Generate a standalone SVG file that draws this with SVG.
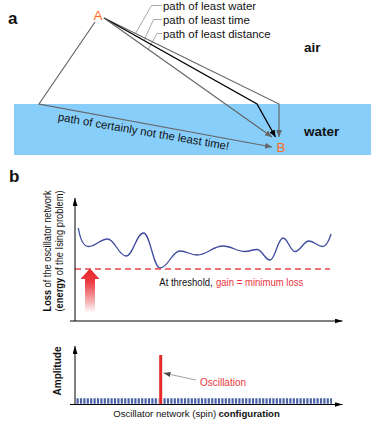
<svg xmlns="http://www.w3.org/2000/svg" width="374" height="431" viewBox="0 0 374 431">
<style>
text{font-family:"Liberation Sans",Arial,Helvetica,sans-serif;fill:#111}
.lbl{font-size:11.4px}
.pl{font-weight:bold;font-size:17px}
.med{font-weight:bold;font-size:13.5px}
.ab{fill:#FF6A1A;font-size:13.5px}
.g{fill:none;stroke:#666;stroke-width:1.2}
.k{fill:none;stroke:#000;stroke-width:1.3}
.lead{fill:none;stroke:#aaa;stroke-width:1}
.ax{fill:none;stroke:#000;stroke-width:1}
.red{fill:#E8343A}
.s{font-size:10.5px}
.b{font-weight:bold}
</style>
<defs>
<marker id="mg" markerUnits="userSpaceOnUse" markerWidth="7" markerHeight="6" viewBox="0 0 7 6" refX="7" refY="3" orient="auto"><path d="M0,0 L7,3 L0,6 z" fill="#666"/></marker>
<marker id="mk" markerUnits="userSpaceOnUse" markerWidth="7" markerHeight="6" viewBox="0 0 7 6" refX="7" refY="3" orient="auto"><path d="M0,0 L7,3 L0,6 z" fill="#000"/></marker>
<marker id="ma" markerUnits="userSpaceOnUse" markerWidth="8" markerHeight="5" viewBox="0 0 8 5" refX="8" refY="2.5" orient="auto"><path d="M0,0 L8,2.5 L0,5 z" fill="#000"/></marker>
<marker id="mo" markerUnits="userSpaceOnUse" markerWidth="7" markerHeight="5" viewBox="0 0 7 5" refX="7" refY="2.5" orient="auto"><path d="M0,0 L7,2.5 L0,5 z" fill="#444"/></marker>
<linearGradient id="rg" x1="0" y1="268" x2="0" y2="313" gradientUnits="userSpaceOnUse">
<stop offset="0" stop-color="#E8262C"/>
<stop offset="0.3" stop-color="#EA3A40"/>
<stop offset="1" stop-color="#E8262C" stop-opacity="0"/>
</linearGradient>
</defs>

<g id="panel-a">
<rect id="water-region" x="14" y="104" width="357" height="51" fill="#87CEFA"/>
<text class="pl" x="8" y="24">a</text>
<g id="node-A"><text class="ab" x="98" y="20" text-anchor="middle">A</text></g>
<g id="node-B"><text class="ab" x="281" y="152" text-anchor="middle">B</text></g>
<g id="label-air"><text class="med" x="304" y="52">air</text></g>
<g id="label-water"><text class="med" x="304" y="136">water</text></g>
<g id="label-least-water"><text class="lbl" x="163" y="9.5">path of least water</text></g>
<g id="label-least-time"><text class="lbl" x="163" y="23.5">path of least time</text></g>
<g id="label-least-distance"><text class="lbl" x="163" y="37.5">path of least distance</text></g>
<g id="label-not-least"><text class="lbl" transform="translate(57.5,120.5) rotate(9.8)">path of certainly not the least time!</text></g>
<g id="connectors-a">
<path class="lead" d="M162,5.5 H151.5 L135.5,33.5"/>
<path class="lead" d="M162,19.5 H153.5 L144,40.5"/>
<path class="lead" d="M162,33.5 H157 L148,49.7"/>
<path class="g" d="M104,18 L279,104 L279,137" marker-end="url(#mg)"/>
<path class="k" d="M104,18 L257,104 L275.5,137" marker-end="url(#mk)"/>
<path class="g" d="M104,18 L272,137" marker-end="url(#mg)"/>
<path class="g" d="M95,22 L39,104 L272,147" marker-end="url(#mg)"/>
</g>
</g>

<g id="panel-b">
<text class="pl" x="9" y="182">b</text>
<g id="loss-axis-label"><text class="s" transform="translate(50.5,251) rotate(-90)" text-anchor="middle" textLength="121" lengthAdjust="spacingAndGlyphs"><tspan class="b">Loss</tspan> of the oscillator network</text>
<text class="s" transform="translate(63,251) rotate(-90)" text-anchor="middle" textLength="121" lengthAdjust="spacingAndGlyphs">(<tspan class="b">energy</tspan> of the Ising problem)</text></g>
<g id="loss-curve"><path fill="none" stroke="#3E4B9E" stroke-width="1.3" d="M78.3,228 C80,238 83.5,246.5 88.5,246.5 C96.1,246.5 99.9,239 107.5,239 C114.9,239 118.6,256 126,256 C133,256 136.5,233 143.5,233 C150.1,233 153.4,268 160,268 C168,268 172,251 180,251 C186.8,251 190.2,255 197,255 C207.4,255 212.6,246 223,246 C231.8,246 236.2,251.5 245,251.5 C249.8,251.5 252.2,249.5 257,249.5 C262.2,249.5 264.8,260 270,260 C275.2,260 277.8,238 283,238 C287.8,238 290.2,251.5 295,251.5 C300.6,251.5 303.4,241 309,241 C314.4,241 317.1,246.5 322.5,246.5 C326,246.5 329.5,240 331,234"/></g>
<g id="threshold"><path d="M75,269 H330" fill="none" stroke="#E8474C" stroke-width="1.3" stroke-dasharray="6 4"/>
<text class="s" x="159.3" y="286" textLength="53.4" lengthAdjust="spacingAndGlyphs">At threshold,</text>
<text class="s red" x="216" y="286" textLength="87.3" lengthAdjust="spacingAndGlyphs">gain = minimum loss</text></g>
<g id="gain-arrow"><path d="M90,268.5 L80.5,279 L85,279 L85,313 L95,313 L95,279 L99.5,279 z" fill="url(#rg)"/></g>
<g id="amplitude-label"><text font-size="10" font-weight="bold" transform="translate(61,371) rotate(-90)" text-anchor="middle">Amplitude</text></g>
<g id="spin-bars">
<path d="M76.5,401 H158.5" fill="none" stroke="#4A62A8" stroke-width="5.6" stroke-dasharray="2.2 1.2"/>
<path d="M163.5,401 H332" fill="none" stroke="#4A62A8" stroke-width="5.6" stroke-dasharray="2.2 1.2"/>
</g>
<g id="oscillation"><rect x="159.2" y="355" width="3" height="49.5" fill="#E52A2A"/>
<text class="s red" x="200" y="385.5" textLength="46" lengthAdjust="spacingAndGlyphs">Oscillation</text></g>
<g id="config-label"><text font-size="9.6" x="113.3" y="417">Oscillator network (spin)</text>
<text font-size="9.6" class="b" x="218.5" y="417">configuration</text></g>
<g id="connectors-b">
<path class="ax" d="M75,321 V198" marker-end="url(#ma)"/>
<path class="ax" d="M70,321 H342.5" marker-end="url(#ma)"/>
<path class="ax" d="M75,404.5 V346" marker-end="url(#ma)"/>
<path class="ax" d="M70,404.5 H342.5" marker-end="url(#ma)"/>
<path d="M196,380 L163.5,373" fill="none" stroke="#888" stroke-width="0.8" marker-end="url(#mo)"/>
</g>
</g>
</svg>
